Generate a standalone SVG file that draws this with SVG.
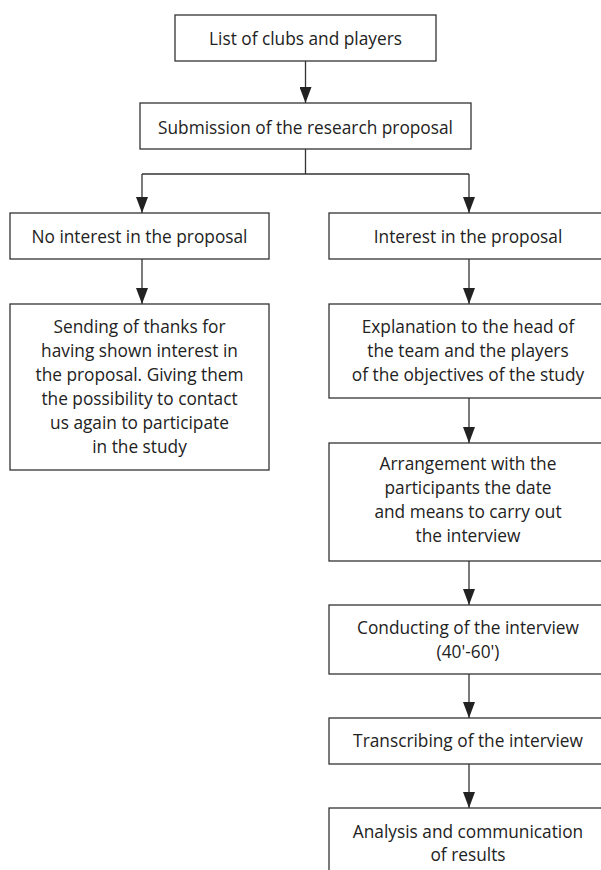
<svg xmlns="http://www.w3.org/2000/svg" width="601" height="870" viewBox="0 0 601 870">
<style>
.box{fill:#fff;stroke:#333;stroke-width:1.3}
.t{font-family:"Open Sans","Liberation Sans",sans-serif;font-size:17.3px;fill:#222;text-anchor:middle}
.c{fill:none;stroke:#333;stroke-width:1.3}
</style>
<defs>
<marker id="ah" markerWidth="16" markerHeight="12" refX="16" refY="6" orient="auto" markerUnits="userSpaceOnUse" viewBox="0 0 16 12">
<path d="M0,0 L16,6 L0,12 Z" fill="#222"/>
</marker>
</defs>
<rect width="601" height="870" fill="#fff"/>
<g id="connectors">
<path class="c" d="M305.5,61 V103" marker-end="url(#ah)"/>
<path class="c" d="M305.5,149 V174 M142,174 H469"/>
<path class="c" d="M142,174 V213" marker-end="url(#ah)"/>
<path class="c" d="M469,174 V213" marker-end="url(#ah)"/>
<path class="c" d="M142,259 V304" marker-end="url(#ah)"/>
<path class="c" d="M469,259 V304" marker-end="url(#ah)"/>
<path class="c" d="M469,398 V443" marker-end="url(#ah)"/>
<path class="c" d="M469,561 V605" marker-end="url(#ah)"/>
<path class="c" d="M469,674 V718" marker-end="url(#ah)"/>
<path class="c" d="M469,764 V808" marker-end="url(#ah)"/>
</g>
<g id="n1"><rect class="box" x="175" y="15" width="261" height="46"/><text class="t" x="305.5" y="45">List of clubs and players</text></g>
<g id="n2"><rect class="box" x="140" y="103" width="331" height="46"/><text class="t" x="305.5" y="134">Submission of the research proposal</text></g>
<g id="n3"><rect class="box" x="10" y="213" width="259" height="46"/><text class="t" x="139.5" y="243">No interest in the proposal</text></g>
<g id="n4"><rect class="box" x="10" y="304" width="259" height="166"/>
<text class="t" x="139.5" y="333">Sending of thanks for</text>
<text class="t" x="139.5" y="357">having shown interest in</text>
<text class="t" x="139.5" y="381">the proposal. Giving them</text>
<text class="t" x="139.5" y="405">the possibility to contact</text>
<text class="t" x="139.5" y="429">us again to participate</text>
<text class="t" x="139.5" y="453">in the study</text></g>
<g id="n5"><rect class="box" x="329" y="213" width="280" height="46"/><text class="t" x="468" y="243">Interest in the proposal</text></g>
<g id="n6"><rect class="box" x="329" y="304" width="280" height="94"/>
<text class="t" x="468" y="333">Explanation to the head of</text>
<text class="t" x="468" y="357">the team and the players</text>
<text class="t" x="468" y="381">of the objectives of the study</text></g>
<g id="n7"><rect class="box" x="329" y="443" width="280" height="118"/>
<text class="t" x="468" y="470">Arrangement with the</text>
<text class="t" x="468" y="494">participants the date</text>
<text class="t" x="468" y="518">and means to carry out</text>
<text class="t" x="468" y="542">the interview</text></g>
<g id="n8"><rect class="box" x="329" y="605" width="280" height="69"/>
<text class="t" x="468" y="634">Conducting of the interview</text>
<text class="t" x="468" y="658">(40'-60')</text></g>
<g id="n9"><rect class="box" x="329" y="718" width="280" height="46"/><text class="t" x="468" y="747">Transcribing of the interview</text></g>
<g id="n10"><rect class="box" x="329" y="808" width="280" height="80"/>
<text class="t" x="468" y="838">Analysis and communication</text>
<text class="t" x="468" y="861">of results</text></g>
</svg>
